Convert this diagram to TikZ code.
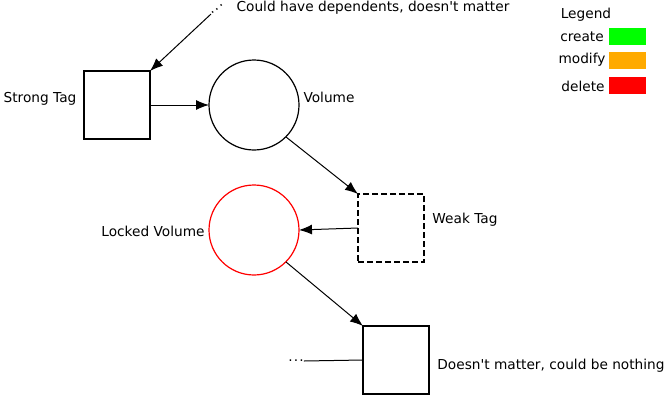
\documentclass[tikz,border=0pt]{standalone}
\usepackage{fontspec}
\setmainfont{DejaVu Sans}
\usetikzlibrary{arrows.meta}

\tikzset{
	tagbox/.style={draw, line width=2pt, minimum width=66pt, minimum height=68pt, outer sep=0pt},
	volcirc/.style={draw, circle, line width=1.2pt, minimum size=90pt, outer sep=0pt},
	dep/.style={line width=1pt, -{Latex[length=13pt,width=10pt]}},
	legbox/.style={minimum width=37pt, minimum height=17pt, inner sep=0pt},
}
\newcommand{\spreaddots}{.\kern1.2pt.\kern1.2pt.}

\begin{document}
\begin{tikzpicture}[x=1pt, y=-1pt, font=\fontsize{13.7}{16}\selectfont]
	\useasboundingbox (0,0) rectangle (672,400);

	% tags and volumes
	\node[tagbox] (stag) at (117,105) {};
	\node[volcirc] (vol) at (254,105) {};
	\node[tagbox, dash pattern=on 6pt off 3pt] (wtag) at (391,228) {};
	\node[volcirc, draw=red] (lvol) at (254,230) {};
	\node[tagbox] (last) at (396,360) {};

	\node (stagl) at (40,99) {Strong Tag};
	\node (voll) at (329,97) {Volume};
	\node (wtagl) at (465,220) {Weak Tag};
	\node (lvoll) at (153,231) {Locked Volume};
	\node (lastl) at (551,366) {Doesn\textquotesingle t matter, could be nothing};

	% dependents
	\node[rotate=40, inner sep=0pt] (topdots) at (217,9) {\spreaddots};
	\node (topl) at (373,8) {Could have dependents, doesn\textquotesingle t matter};
	\node[inner sep=0pt, anchor=base] (botdots) at (296,361) {\spreaddots};

	\draw[dep] (topdots.west) -- (stag.north east);
	\draw[dep] (stag.east) -- (vol.west);
	\draw[dep] (vol.south east) -- (wtag.north west);
	\draw[dep] (wtag.west) -- (lvol.east);
	\draw[dep] (lvol.south east) -- (last.north west);
	\draw[line width=1pt] (botdots.base east) -- (last.west);

	% legend
	\node (leg) at (586,15) {Legend};
	\node (create) at (582,37) {create};
	\node (modify) at (582,60) {modify};
	\node (delete) at (583,86) {delete};
	\node[legbox, fill={rgb,255:red,0;green,255;blue,0}] (createc) at (627.5,36.5) {};
	\node[legbox, fill={rgb,255:red,255;green,170;blue,0}] (modifyc) at (627.5,60.5) {};
	\node[legbox, fill=red] (deletec) at (627.5,85.5) {};
\end{tikzpicture}
\end{document}
